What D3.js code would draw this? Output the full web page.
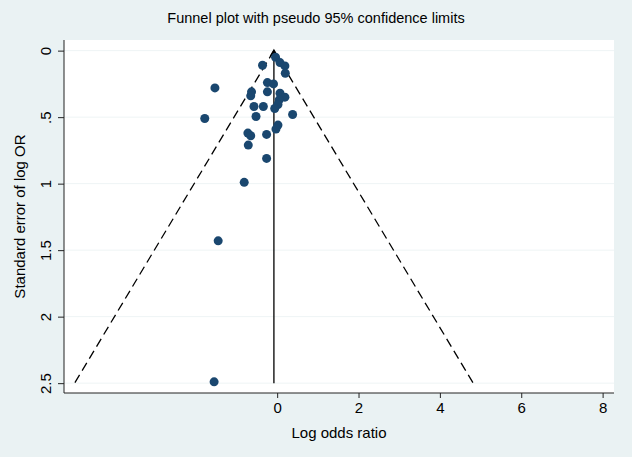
<!DOCTYPE html>
<html>
<head>
<meta charset="utf-8">
<script src="https://cdn.jsdelivr.net/npm/d3@7"></script>
<style>
  body { margin: 0; background: #eaf2f3; }
  text { font-family: "Liberation Sans", Arial, sans-serif; fill: #000; }
</style>
</head>
<body>
<div id="vis"></div>
<script>
// study estimates: log odds ratio and its standard error
let logOR = [-0.04, -0.36, 0.07, 0.19, 0.20, -1.53, -0.24, -0.09, -0.24, -0.63,
             -0.65, 0.07, 0.19, 0.05, 0.02, -0.06, -0.57, -0.34, -1.78, -0.52,
             0.38, 0.02, -0.03, -0.72, -0.65, -0.26, -0.71, -0.26, -0.81, -1.45, -1.55]
let seLogOR = [0.05, 0.11, 0.09, 0.115, 0.17, 0.28, 0.24, 0.25, 0.31, 0.31,
               0.34, 0.32, 0.35, 0.37, 0.405, 0.435, 0.42, 0.42, 0.51, 0.495,
               0.48, 0.56, 0.59, 0.62, 0.64, 0.63, 0.71, 0.81, 0.99, 1.43, 2.49]
let pooled = -0.08
let seMax = 2.5
let xTicks = [0, 2, 4, 6, 8]
let yTicks = [0, 0.5, 1, 1.5, 2, 2.5]
let yTickLabels = ['0', '.5', '1', '1.5', '2', '2.5']

let data = logOR.map((d, i) => ({x: d, se: seLogOR[i]}))

let W = 632, H = 457
let margin = {top: 40, right: 18, bottom: 64, left: 64},
    width = W - margin.left - margin.right,
    height = H - margin.top - margin.bottom

let svg = d3.select('#vis')
  .append('svg')
  .attr('width', W)
  .attr('height', H)

svg.append('rect')
  .attr('width', W).attr('height', H)
  .attr('fill', '#eaf2f3')

let g = svg.append('g')
  .attr('transform', `translate(${margin.left},${margin.top})`)

g.append('rect')
  .attr('width', width).attr('height', height)
  .attr('fill', '#fff')

let xScale = d3.scaleLinear()
  .domain([-5.24, 8.28])
  .range([0, width])

let yScale = d3.scaleLinear()
  .domain([-0.08, 2.574])
  .range([0, height])

// gridlines
g.selectAll('.grid')
  .data(yTicks)
  .join('line')
  .attr('x1', 0).attr('x2', width)
  .attr('y1', d => yScale(d)).attr('y2', d => yScale(d))
  .attr('stroke', '#eef4f5')
  .attr('stroke-width', 1)

// axes
let xAxis = g.append('g')
  .attr('transform', `translate(0,${height})`)
  .call(d3.axisBottom(xScale).tickValues(xTicks).tickSize(5).tickPadding(4).tickFormat(d3.format('d')))

let yAxis = g.append('g')
  .call(d3.axisLeft(yScale).tickValues(yTicks).tickSize(6).tickPadding(5).tickFormat((d, i) => yTickLabels[i]))

xAxis.select('.domain').attr('d', `M0,0H${width}`)
yAxis.select('.domain').attr('d', `M0,0V${height}`)
g.selectAll('.domain').attr('stroke', '#222')
g.selectAll('.tick line').attr('stroke', '#222')
xAxis.selectAll('.tick text')
  .attr('font-size', '15px')
  .attr('fill', '#000')
yAxis.selectAll('.tick text')
  .attr('font-size', '15px')
  .attr('fill', '#000')
  .attr('text-anchor', 'middle')
  .attr('dy', 0)
  .attr('transform', 'translate(-13,0) rotate(-90)')
  .attr('x', 0)
  .attr('y', 0)

// funnel: pseudo 95% limits
let funnelLeft = [{x: pooled, se: 0}, {x: pooled - 1.96 * seMax, se: seMax}]
let funnelRight = [{x: pooled, se: 0}, {x: pooled + 1.96 * seMax, se: seMax}]
let line = d3.line().x(d => xScale(d.x)).y(d => yScale(d.se))

g.selectAll('.funnel')
  .data([funnelLeft, funnelRight])
  .join('path')
  .attr('d', line)
  .attr('fill', 'none')
  .attr('stroke', '#000')
  .attr('stroke-width', 1.3)
  .attr('stroke-dasharray', '9,5')

g.append('path')
  .attr('d', line([{x: pooled, se: 0}, {x: pooled, se: seMax}]))
  .attr('stroke', '#000')
  .attr('stroke-width', 1.3)

g.append('path')
  .attr('d', d3.symbol().type(d3.symbolTriangle).size(30))
  .attr('transform', `translate(${xScale(pooled)},${yScale(0) + 3})`)
  .attr('fill', '#000')

// studies
g.selectAll('.dot')
  .data(data)
  .join('circle')
  .attr('cx', d => xScale(d.x))
  .attr('cy', d => yScale(d.se))
  .attr('r', 4.5)
  .attr('fill', '#1a476f')

// titles
svg.append('text')
  .attr('x', W / 2)
  .attr('y', 23)
  .attr('text-anchor', 'middle')
  .attr('font-size', '14.5px')
  .text('Funnel plot with pseudo 95% confidence limits')

svg.append('text')
  .attr('x', margin.left + width / 2)
  .attr('y', 438)
  .attr('text-anchor', 'middle')
  .attr('font-size', '15px')
  .text('Log odds ratio')

svg.append('text')
  .attr('transform', `translate(25,${margin.top + height / 2}) rotate(-90)`)
  .attr('text-anchor', 'middle')
  .attr('font-size', '15px')
  .text('Standard error of log OR')
</script>
</body>
</html>
